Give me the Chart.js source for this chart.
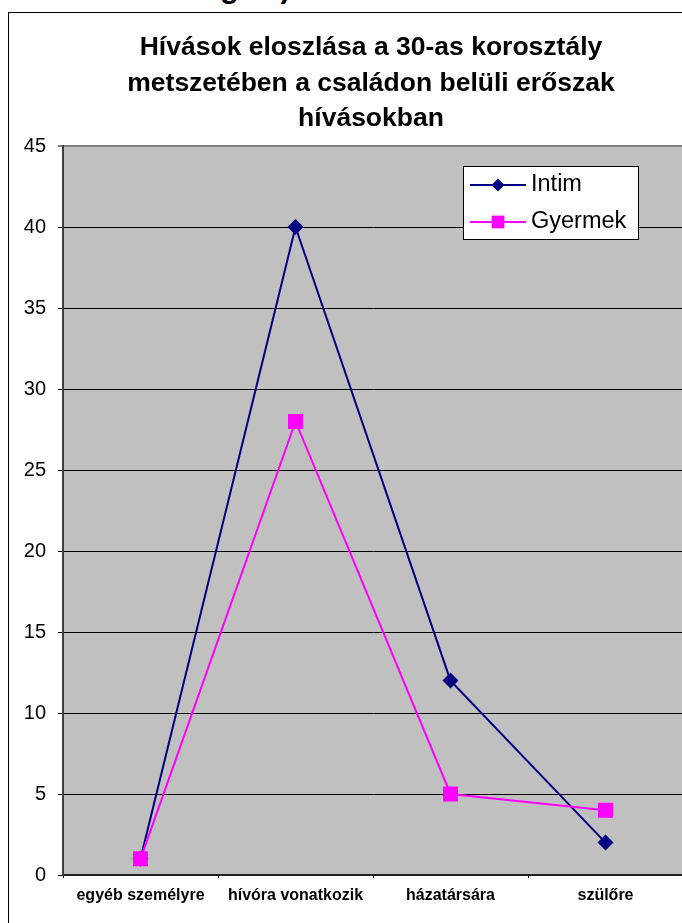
<!DOCTYPE html>
<html>
<head>
<meta charset="utf-8">
<script src="https://cdn.jsdelivr.net/npm/chart.js@4"></script>
<style>
  html, body { margin: 0; padding: 0; background: #fff; }
  body { width: 682px; height: 923px; overflow: hidden; position: relative; font-family: Arial, "Liberation Sans", sans-serif; }
  #cut { position: absolute; left: 187px; top: -27px; font: bold 30px/30px Arial, "Liberation Sans", sans-serif; white-space: nowrap; }
  #frame { position: absolute; left: 8px; top: 12px; width: 724px; height: 930px; border: 1px solid #000; }
  #chart { display: block; }
</style>
</head>
<body>
<div id="cut">ség 30)</div>
<div id="frame"><canvas id="chart" width="724" height="930"></canvas></div>
<script>
const categories = ['egyéb személyre', 'hívóra vonatkozik', 'házatársára', 'szülőre'];
const intim = [1, 40, 12, 2];
const gyermek = [1, 28, 5, 4];
const yMin = 0, yMax = 45, yStep = 5;
const titleLines = ['Hívások eloszlása a 30-as korosztály', 'metszetében a családon belüli erőszak', 'hívásokban'];

// gray plot area
const plotBg = {
  id: 'plotBg',
  beforeDraw(chart) {
    const { ctx, chartArea: a } = chart;
    ctx.save();
    ctx.fillStyle = '#c0c0c0';
    ctx.fillRect(a.left, a.top, a.width, a.height);
    ctx.restore();
  }
};

// legend box inside the plot, Excel style
const boxLegend = {
  id: 'boxLegend',
  afterDraw(chart) {
    const ctx = chart.ctx;
    const box = { x: 454, y: 153, w: 175, h: 73 };
    ctx.save();
    ctx.fillStyle = '#fff';
    ctx.fillRect(box.x, box.y, box.w, box.h);
    ctx.strokeStyle = '#000';
    ctx.lineWidth = 1;
    ctx.strokeRect(box.x + 0.5, box.y + 0.5, box.w, box.h);
    chart.data.datasets.forEach((ds, i) => {
      const y = 172 + i * 37;
      ctx.strokeStyle = ds.borderColor;
      ctx.lineWidth = 2;
      ctx.beginPath();
      ctx.moveTo(461, y);
      ctx.lineTo(517, y);
      ctx.stroke();
      ctx.fillStyle = ds.borderColor;
      Chart.helpers.drawPoint(ctx, { pointStyle: ds.pointStyle, radius: ds.legendRadius, rotation: 0, borderWidth: 0 }, 489, y);
      ctx.fillStyle = '#000';
      ctx.font = '23.5px Arial, "Liberation Sans", sans-serif';
      ctx.textBaseline = 'middle';
      ctx.textAlign = 'left';
      ctx.fillText(ds.label, 522, y);
    });
    ctx.restore();
  }
};

new Chart(document.getElementById('chart'), {
  type: 'line',
  data: {
    labels: categories,
    datasets: [
      {
        label: 'Intim',
        data: intim,
        borderColor: '#000080',
        backgroundColor: '#000080',
        borderWidth: 2,
        pointStyle: 'rectRot',
        pointRadius: 8,
        pointBorderWidth: 0,
        legendRadius: 6.5,
        tension: 0,
        order: 1
      },
      {
        label: 'Gyermek',
        data: gyermek,
        borderColor: '#ff00ff',
        backgroundColor: '#ff00ff',
        borderWidth: 2,
        pointStyle: 'rect',
        pointRadius: 10.6,
        pointBorderWidth: 0,
        legendRadius: 9,
        tension: 0,
        order: 0
      }
    ]
  },
  options: {
    responsive: false,
    animation: false,
    layout: { padding: { top: 0, left: 0, right: 0, bottom: 18 } },
    plugins: {
      legend: { display: false },
      tooltip: { enabled: false },
      title: {
        display: true,
        text: titleLines,
        color: '#000',
        font: { family: 'Arial, "Liberation Sans", sans-serif', weight: 'bold', size: 26.5, lineHeight: 1.34 },
        padding: { top: 17, bottom: 9.5 }
      }
    },
    scales: {
      x: {
        type: 'category',
        offset: true,
        grid: { offset: true, drawOnChartArea: false, tickLength: 3, color: '#000' },
        border: { color: '#202020', width: 2 },
        ticks: {
          color: '#000',
          padding: 8,
          maxRotation: 0,
          autoSkip: false,
          font: { family: 'Arial, "Liberation Sans", sans-serif', weight: 'bold', size: 16 }
        },
        afterFit(s) { s.height = 50; }
      },
      y: {
        min: yMin,
        max: yMax,
        ticks: {
          stepSize: yStep,
          color: '#000',
          padding: 12,
          font: { family: 'Arial, "Liberation Sans", sans-serif', size: 20 }
        },
        grid: {
          color: c => c.tick && c.tick.value === yMax ? '#808080' : '#000',
          lineWidth: c => c.tick && c.tick.value === yMax ? 2 : 1,
          tickLength: 5,
          tickColor: '#000',
          tickWidth: 1
        },
        border: { color: '#404040', width: 2 },
        afterFit(s) { s.width = 54; }
      },
      yRight: {
        position: 'right',
        ticks: { display: false },
        grid: { display: false },
        border: { display: false },
        afterFit(s) { s.width = 50; }
      }
    }
  },
  plugins: [plotBg, boxLegend]
});
</script>
</body>
</html>
